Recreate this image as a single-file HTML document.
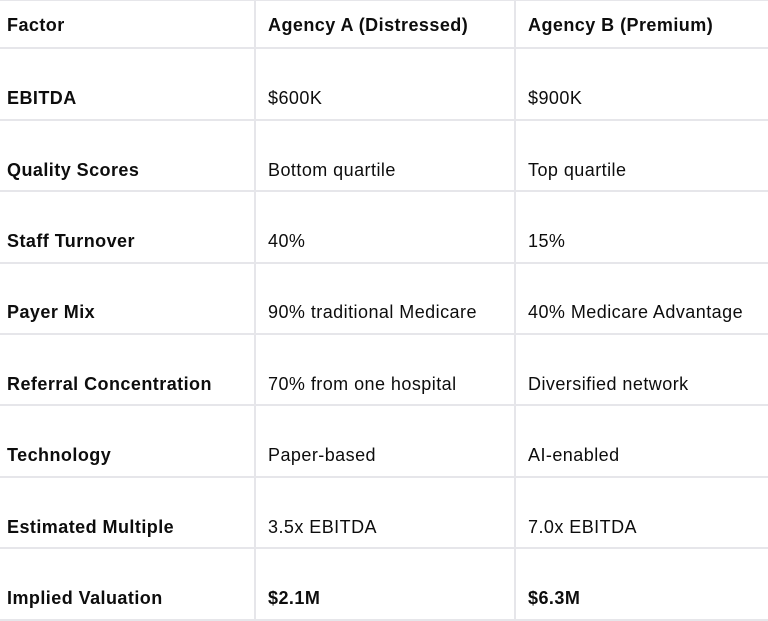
<!DOCTYPE html>
<html><head><meta charset="utf-8"><style>
body{margin:0;width:768px;height:621px;background:#fff;font-family:"Liberation Sans",sans-serif;color:#0d0d0d;position:relative;overflow:hidden}
.h{position:absolute;left:0;width:768px;height:2px;background:#e6e6ea}
.v{position:absolute;top:0;width:2px;height:621px;background:#e6e6ea}
.c{position:absolute;font-size:18px;line-height:20px;white-space:nowrap;letter-spacing:0.45px}
.b{font-weight:bold}
</style></head><body>
<div class="h" style="top:0;height:1px"></div>
<div class="h" style="top:47px"></div>
<div class="h" style="top:119px"></div>
<div class="h" style="top:190px"></div>
<div class="h" style="top:262px"></div>
<div class="h" style="top:333px"></div>
<div class="h" style="top:404px"></div>
<div class="h" style="top:476px"></div>
<div class="h" style="top:547px"></div>
<div class="h" style="top:619px"></div>
<div class="v" style="left:254px"></div>
<div class="v" style="left:514px"></div>

<div class="c b" style="left:7px;top:15px">Factor</div>
<div class="c b" style="left:268px;top:15px">Agency A (Distressed)</div>
<div class="c b" style="left:528px;top:15px">Agency B (Premium)</div>

<div class="c b" style="left:7px;top:88px">EBITDA</div>
<div class="c" style="left:268px;top:88px">$600K</div>
<div class="c" style="left:528px;top:88px">$900K</div>

<div class="c b" style="left:7px;top:160px">Quality Scores</div>
<div class="c" style="left:268px;top:160px">Bottom quartile</div>
<div class="c" style="left:528px;top:160px">Top quartile</div>

<div class="c b" style="left:7px;top:231px">Staff Turnover</div>
<div class="c" style="left:268px;top:231px">40%</div>
<div class="c" style="left:528px;top:231px">15%</div>

<div class="c b" style="left:7px;top:302px">Payer Mix</div>
<div class="c" style="left:268px;top:302px">90% traditional Medicare</div>
<div class="c" style="left:528px;top:302px">40% Medicare Advantage</div>

<div class="c b" style="left:7px;top:374px">Referral Concentration</div>
<div class="c" style="left:268px;top:374px">70% from one hospital</div>
<div class="c" style="left:528px;top:374px">Diversified network</div>

<div class="c b" style="left:7px;top:445px">Technology</div>
<div class="c" style="left:268px;top:445px">Paper-based</div>
<div class="c" style="left:528px;top:445px">AI-enabled</div>

<div class="c b" style="left:7px;top:517px">Estimated Multiple</div>
<div class="c" style="left:268px;top:517px">3.5x EBITDA</div>
<div class="c" style="left:528px;top:517px">7.0x EBITDA</div>

<div class="c b" style="left:7px;top:588px">Implied Valuation</div>
<div class="c b" style="left:268px;top:588px">$2.1M</div>
<div class="c b" style="left:528px;top:588px">$6.3M</div>
</body></html>
